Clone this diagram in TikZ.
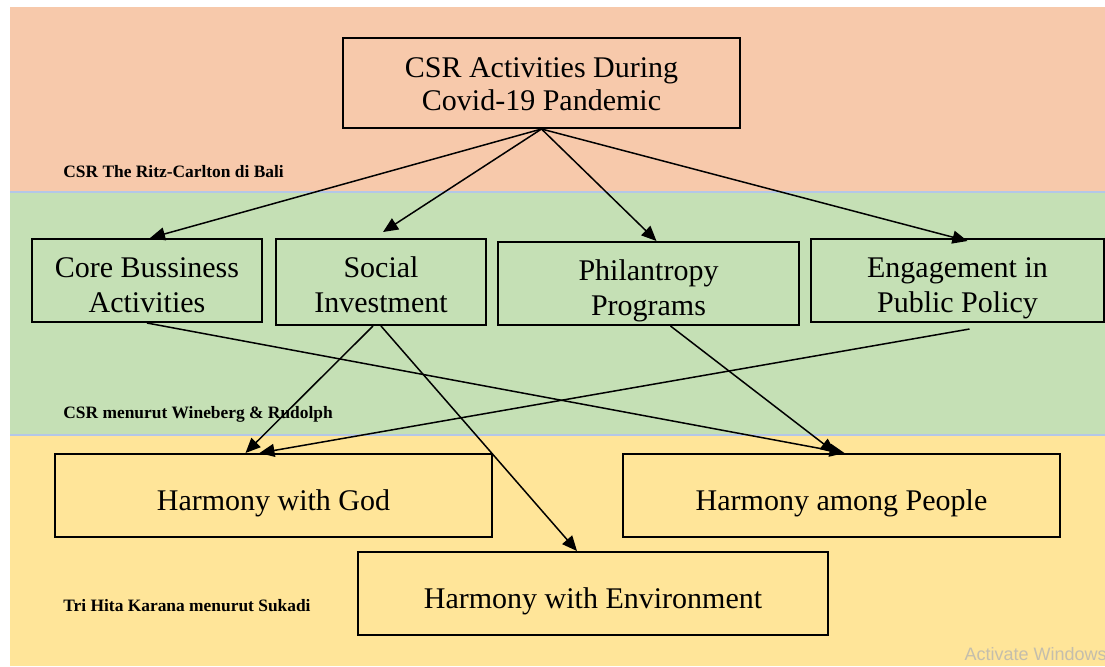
\documentclass[tikz,border=0pt]{standalone}
\usepackage{fontspec}
\setmainfont{Liberation Serif}
\newfontfamily\winfont{Liberation Sans}
\usepackage{tikz}
\usetikzlibrary{arrows.meta,calc}
\definecolor{bandorange}{RGB}{247,201,171}
\definecolor{bandgreen}{RGB}{197,224,181}
\definecolor{bandyellow}{RGB}{255,229,153}
\definecolor{bandline}{RGB}{180,199,231}
\definecolor{wintext}{RGB}{196,190,172}

\begin{document}
\begin{tikzpicture}[x=0.5pt,y=-0.5pt,
  box/.style={draw, line width=1pt, inner sep=0pt, align=center, text depth=0pt, font=\fontsize{15}{17.5}\selectfont},
  band/.style={anchor=west, inner sep=0pt, font=\bfseries\fontsize{8.7}{10}\selectfont},
  arr/.style={-{Triangle[length=7.5pt,width=6.5pt]}, line width=0.75pt}]
\useasboundingbox (0,0) rectangle (1105,666);
\fill[white] (0,0) rectangle (1105,666);
\fill[bandorange] (10,7) rectangle (1105,192);
\fill[bandgreen] (10,192) rectangle (1105,435);
\fill[bandyellow] (10,435) rectangle (1105,666);
\draw[bandline, line width=0.6pt] (10,192) -- (1105,192) (10,435) -- (1105,435);

\node[band] (ritz) at (63,172) {CSR The Ritz-Carlton di Bali};
\node[band] (wineberg) at (63,414) {CSR menurut Wineberg \& Rudolph};
\node[band] (sukadi) at (63,606) {Tri Hita Karana menurut Sukadi};

\node[box, text height=27pt, font=\fontsize{15}{16.5}\selectfont, minimum width=198.5pt, minimum height=45pt] (csr) at (541.5,83) {CSR Activities During\\Covid-19 Pandemic};
\node[box, text height=31.5pt, minimum width=115pt, minimum height=41.5pt] (core) at (147,280.5) {Core Bussiness\\Activities};
\node[box, text height=30pt, minimum width=105pt, minimum height=43pt] (social) at (381,282) {Social\\Investment};
\node[box, text height=32pt, minimum width=150.5pt, minimum height=41.5pt] (phil) at (648.5,283.5) {Philantropy\\Programs};
\node[box, text height=31.5pt, minimum width=146.5pt, minimum height=41.5pt] (engage) at (957.5,280.5) {Engagement in\\Public Policy};
\node[box, text height=14.5pt, minimum width=218.5pt, minimum height=41.5pt] (god) at (273.5,495.5) {Harmony with God};
\node[box, text height=14.5pt, minimum width=218.5pt, minimum height=41.5pt] (people) at (841.5,495.5) {Harmony among People};
\node[box, text height=14.5pt, minimum width=235pt, minimum height=41.5pt] (env) at (593,593.5) {Harmony with Environment};

\draw[arr] (csr.south) -- ($(core.north)+(3,0)$);
\draw[arr] (csr.south) -- ($(social.north)+(2,-6)$);
\draw[arr] (csr.south) -- ($(phil.north)+(8,0)$);
\draw[arr] (csr.south) -- ($(engage.north)+(10,3)$);
\draw[arr] (core.south) -- ($(people.north)+(3,0)$);
\draw[arr] ($(social.south)+(-8,0)$) -- ($(god.north)+(-28,0)$);
\draw[arr] (social.south) -- ($(env.north)+(-16,0)$);
\draw[arr] ($(phil.south)+(22,0)$) -- ($(people.north)+(-6,0)$);
\draw[arr] ($(engage.south)+(12,6)$) -- ($(god.north)+(-14,0)$);

\node[anchor=east, inner sep=0pt, text=wintext, font=\winfont\fontsize{9}{10}\selectfont] (activate) at (1107,654) {Activate Windows};
\end{tikzpicture}
\end{document}
